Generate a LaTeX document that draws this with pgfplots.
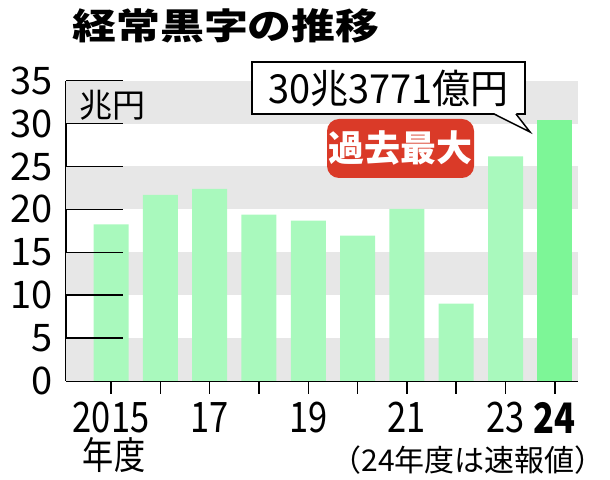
\documentclass[border=0pt]{standalone}
\usepackage{fontspec}
\setmainfont{Noto Sans CJK JP}
\usepackage{graphicx}
\usepackage{pgfplots}
\pgfplotsset{compat=1.18}
\definecolor{barlt}{HTML}{A9F9BD}
\definecolor{bardk}{HTML}{7DF697}
\definecolor{band}{HTML}{E7E7E7}
\definecolor{tagred}{HTML}{DA3A28}
\newcommand\fs[1]{\fontsize{#1bp}{#1bp}\selectfont}
\newcommand\nar[2][0.82]{\scalebox{#1}[1]{#2}}

\begin{document}
\begin{tikzpicture}
\path[use as bounding box] (0,0) rectangle (610bp,480bp);
\begin{axis}[
  at={(66bp,99bp)}, anchor=south west,
  scale only axis, width=512bp, height=300.3bp,
  xmin=-0.913, xmax=9.47, ymin=0, ymax=35,
  axis lines=left, axis line style={-, line width=1.5bp, black},
  clip=false,
  tick align=outside, major tick length=13bp,
  tick style={black, line width=1.5bp},
  xtick={0,...,9},
  xticklabels={\nar{2015},{},\nar{17},{},\nar{19},{},\nar{21},{},\nar{23},\textbf{\nar{24}}},
  ytick={0,5,...,35}, ytick style={draw=none},
  yticklabels={0,5,10,15,20,25,30,35},
  yticklabel style={font=\fs{38}, inner sep=0pt, anchor=east},
  xticklabel style={font=\fs{42}, inner sep=0pt, anchor=north, yshift=-8bp},
]
\fill[band] (axis cs:-0.913,0) rectangle (axis cs:9.47,5);
\fill[band] (axis cs:-0.913,10) rectangle (axis cs:9.47,15);
\fill[band] (axis cs:-0.913,20) rectangle (axis cs:9.47,25);
\fill[band] (axis cs:-0.913,30) rectangle (axis cs:9.47,35);
\addplot[ybar, bar shift=0pt, bar width=35bp, fill=barlt, draw=none] coordinates {
  (0,18.26) (1,21.68) (2,22.38) (3,19.38) (4,18.69)
  (5,16.93) (6,20.05) (7,9.01) (8,26.18)
};
\addplot[ybar, bar shift=0pt, bar width=35bp, fill=bardk, draw=none] coordinates {
  (9,30.3771)
};
\pgfplotsinvokeforeach{5,10,...,35}{
  \draw[line width=1.5bp] (axis cs:-0.913,#1) -- ++(12bp,0);
}
\end{axis}
% title and notes
\node[font=\bfseries\fs{36}, inner sep=0] at (226bp,454bp) {\scalebox{1.22}[1]{経常黒字の推移}};
\node[font=\fs{33}, inner sep=0] at (112bp,375bp) {兆円};
\node[font=\fs{38}, inner sep=0] at (114bp,25bp) {\nar{年度}};
\node[font=\fs{30}, inner sep=0] at (468bp,19.5bp) {（24年度は速報値）};
% callout
\draw[line width=1.5bp, fill=white] (252bp,366bp) rectangle (525bp,418bp);
\fill[white] (494bp,367bp) -- (530bp,348bp) -- (516bp,367bp) -- cycle;
\draw[line width=1.5bp] (494bp,366bp) -- (530bp,348bp) -- (516bp,366bp);
\node[font=\fs{40}, inner sep=0] at (388.5bp,392bp) {\scalebox{0.95}[1]{30兆3771億円}};
\node[fill=tagred, rounded corners=12bp, minimum width=147bp, minimum height=59bp,
  text=white, font=\bfseries\fs{36}, inner sep=0] at (400.5bp,331.5bp) {過去最大};
\end{tikzpicture}
\end{document}
